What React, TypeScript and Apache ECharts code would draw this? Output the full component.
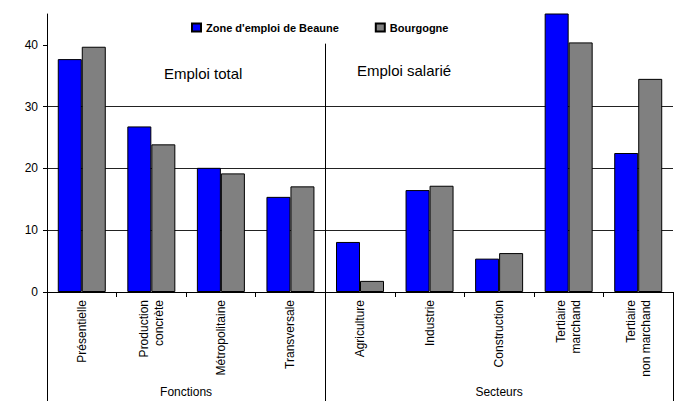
import React, { useEffect, useRef } from "react";
import * as echarts from "echarts";

const categories = [
  "Présentielle",
  "Production\nconcrète",
  "Métropolitaine",
  "Transversale",
  "Agriculture",
  "Industrie",
  "Construction",
  "Tertiaire\nmarchand",
  "Tertiaire\nnon marchand",
];
const seriesNames = ["Zone d'emploi de Beaune", "Bourgogne"];
const beaune = [37.7, 26.8, 20.1, 15.4, 8.1, 16.5, 5.4, 47.5, 22.5];
const bourgogne = [39.7, 23.9, 19.2, 17.1, 1.8, 17.2, 6.3, 40.4, 34.5];
const yTicks = [0, 10, 20, 30, 40];
const yMax = 45;
const groups = ["Fonctions", "Secteurs"];
const groupSizes = [4, 5];
const panelTitles = ["Emploi total", "Emploi salarié"];
const separatorTopValue = 40.2;

const FONT = "'Liberation Sans', Arial, sans-serif";

export default function App() {
  const ref = useRef<HTMLDivElement>(null);

  useEffect(() => {
    if (!ref.current) return;
    const chart = echarts.init(ref.current, undefined, { renderer: "svg" });
    chart.setOption({
      animation: false,
      textStyle: { fontFamily: FONT },
      legend: {
        left: 186,
        top: 17,
        itemWidth: 9,
        itemHeight: 8,
        itemGap: 36,
        icon: "rect",
        textStyle: { fontFamily: FONT, fontSize: 11, fontWeight: "bold", color: "#000" },
        data: seriesNames,
      },
      grid: { left: 47, top: 14, right: 5, bottom: 109, containLabel: false },
      xAxis: {
        type: "category",
        data: categories,
        axisLine: { lineStyle: { color: "#000", width: 1 } },
        axisTick: { show: true, length: 5, lineStyle: { color: "#000" } },
        axisLabel: {
          rotate: 90,
          interval: 0,
          margin: 8,
          fontSize: 12,
          lineHeight: 15,
          color: "#000",
          fontFamily: FONT,
        },
      },
      yAxis: {
        type: "value",
        min: 0,
        max: yMax,
        interval: 10,
        axisLine: { show: true, lineStyle: { color: "#000", width: 1 } },
        axisTick: { show: true, length: 4, lineStyle: { color: "#000" }, customValues: yTicks },
        axisLabel: { fontSize: 12, color: "#000", margin: 9, customValues: yTicks, fontFamily: FONT },
        splitLine: { show: true, showMaxLine: false, lineStyle: { color: "#222", width: 1 } },
      },
      series: [
        {
          name: seriesNames[0],
          type: "bar",
          data: beaune,
          barWidth: 24,
          barGap: "0%",
          itemStyle: { color: "#0000FF", borderColor: "#000", borderWidth: 1 },
        },
        {
          name: seriesNames[1],
          type: "bar",
          data: bourgogne,
          barWidth: 24,
          barGap: "0%",
          itemStyle: { color: "#808080", borderColor: "#000", borderWidth: 1 },
        },
      ],
    });

    const px = (i: number) => chart.convertToPixel({ xAxisIndex: 0 }, i) as number;
    const py = (v: number) => chart.convertToPixel({ yAxisIndex: 0 }, v) as number;
    const band = px(1) - px(0);
    const y0 = py(0);
    const bottom = 401;
    const boundaries: number[] = [px(0) - band / 2];
    let idx = 0;
    groupSizes.forEach((n) => {
      idx += n;
      boundaries.push(px(idx - 1) + band / 2);
    });
    const graphics: any[] = [];
    boundaries.forEach((x, i) => {
      const top = i > 0 && i < boundaries.length - 1 ? py(separatorTopValue) : y0;
      graphics.push({
        type: "line",
        shape: { x1: Math.round(x) + 0.5, y1: top, x2: Math.round(x) + 0.5, y2: bottom },
        style: { stroke: "#000", lineWidth: 1 },
        z: 10,
      });
    });
    groups.forEach((g, i) => {
      graphics.push({
        type: "text",
        x: (boundaries[i] + boundaries[i + 1]) / 2,
        y: 386,
        style: { text: g, fontSize: 12, fontFamily: FONT, fill: "#000", textAlign: "center", textVerticalAlign: "top" },
      });
    });
    graphics.push({
      type: "text",
      x: 164,
      y: 66,
      style: { text: panelTitles[0], fontSize: 15, fontFamily: FONT, fill: "#000" },
    });
    graphics.push({
      type: "text",
      x: 357,
      y: 63,
      style: { text: panelTitles[1], fontSize: 15, fontFamily: FONT, fill: "#000" },
    });
    chart.setOption({ graphic: graphics });

    return () => chart.dispose();
  }, []);

  return (
    <div
      ref={ref}
      style={{ position: "fixed", left: 0, top: 0, width: 678, height: 401, background: "#fff" }}
    />
  );
}
